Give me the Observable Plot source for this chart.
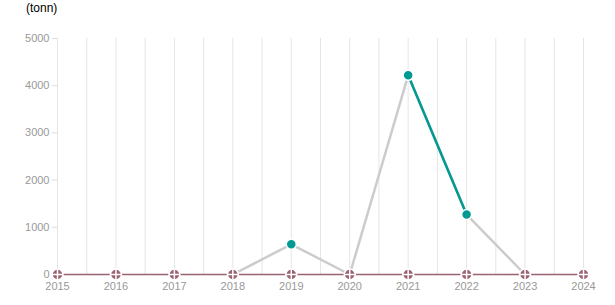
<!DOCTYPE html>
<html><head><meta charset="utf-8">
<script src="https://cdn.jsdelivr.net/npm/d3@7"></script>
<script src="https://cdn.jsdelivr.net/npm/@observablehq/plot@0.6"></script>
<style>
body{margin:0;background:#fff;font-family:"Liberation Sans",Arial,sans-serif;}
#title{height:18px;font-size:12px;color:#000;padding-left:26px;line-height:16px;}
</style></head><body>
<div id="title">(tonn)</div>
<div id="chart"></div>
<script>
const years = [2015,2016,2017,2018,2019,2020,2021,2022,2023,2024];
const baseValues = [0,0,0,0,0,0,0,0,0,0];
const lineYears = [2018,2019,2020,2021,2022,2023];
const lineValues = [0,640,0,4220,1270,0];
const highlightYears = [2021,2022];
const highlightValues = [4220,1270];
const tealDotYears = [2019,2021,2022];
const tealDotValues = [640,4220,1270];
const yTicks = [0,1000,2000,3000,4000,5000];

const base = years.map((y,i)=>({year:y,value:baseValues[i]}));
const line = lineYears.map((y,i)=>({year:y,value:lineValues[i]}));
const hl = highlightYears.map((y,i)=>({year:y,value:highlightValues[i]}));
const tdots = tealDotYears.map((y,i)=>({year:y,value:tealDotValues[i]}));
const grid = d3.range(2015, 2024.01, 0.5);

const mauve = "#9b6272";
const teal = "#009a93";

const plot = Plot.plot({
  width: 615,
  height: 287,
  marginLeft: 57,
  marginRight: 32,
  marginTop: 20,
  marginBottom: 31,
  style: {fontFamily: "Liberation Sans, Arial, sans-serif", fontSize: "11px", color: "#999"},
  x: {type: "linear", domain: [2015, 2024]},
  y: {type: "linear", domain: [0, 5000]},
  marks: [
    Plot.ruleX(grid, {x: d=>d, stroke: "#e5e5e5", strokeWidth: 1}),
    Plot.axisY({ticks: yTicks, tickSize: 5, stroke: "#ddd", strokeOpacity: 1, fill: "#999", tickPadding: 3, tickFormat: d=>String(d), label: null}),
    Plot.axisX({ticks: years, tickSize: 0, fill: "#999", tickPadding: 8, tickFormat: d=>String(d), label: null}),
    Plot.line(line, {x: "year", y: "value", stroke: "#cccccc", strokeWidth: 2.5}),
    Plot.line(hl, {x: "year", y: "value", stroke: teal, strokeWidth: 2.5}),
    Plot.line(base, {x: "year", y: "value", stroke: mauve, strokeWidth: 1.5}),
    Plot.dot(tdots, {x: "year", y: "value", r: 5, fill: teal, stroke: "#fff", strokeWidth: 1.5}),
    Plot.dot(base, {x: "year", y: "value", r: 5.5, fill: mauve, stroke: "#fff", strokeWidth: 1.5}),
    Plot.dot(base, {x: "year", y: "value", r: 3.5, symbol: "plus", stroke: "#fff", strokeWidth: 1.5, fill: "none"})
  ]
});
document.getElementById("chart").appendChild(plot);
</script>
</body></html>
